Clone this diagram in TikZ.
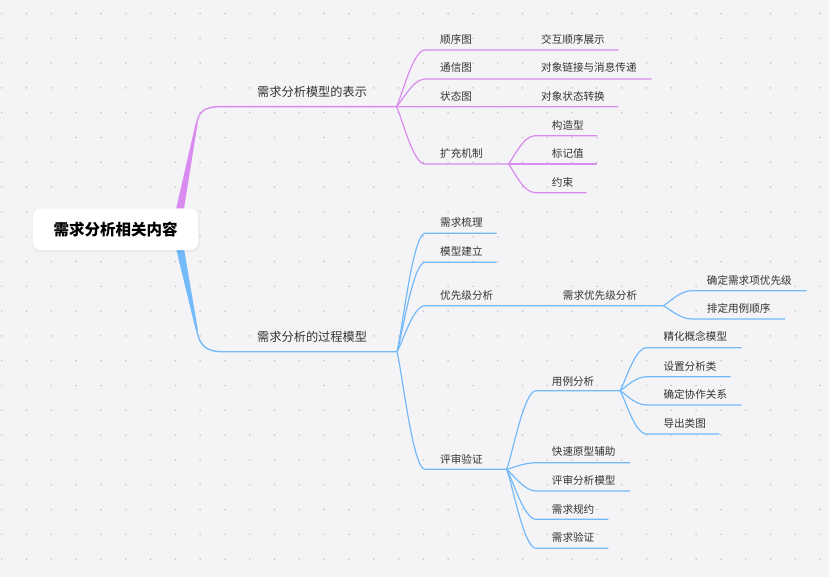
\documentclass[tikz,border=0pt]{standalone}
\usepackage{fontspec}
\newfontfamily\cjk{Noto Sans CJK SC}
\usetikzlibrary{calc}
\definecolor{bg}{HTML}{F4F4F6}
\definecolor{dotc}{HTML}{C6C6CA}
\definecolor{pinkc}{HTML}{D98BEF}
\definecolor{bluec}{HTML}{74B9FA}
\definecolor{txt}{HTML}{333333}
\begin{document}
\begin{tikzpicture}[x=1pt,y=-1pt,
  lab/.style={font=\cjk\fontsize{10.6}{12}\selectfont, text=txt, anchor=west, inner sep=0pt},
  labone/.style={font=\cjk\fontsize{12.2}{14}\selectfont, text=txt, anchor=west, inner sep=0pt},
  pk/.style={draw=pinkc, line width=1.2pt},
  bl/.style={draw=bluec, line width=1.2pt},
  branch/.style={to path={.. controls ($(\tikztostart)!0.2!(\tikztotarget)$) and ($(\tikztotarget)+(-12,0)$) .. (\tikztotarget)}}
]
\fill[bg] (0,0) rectangle (829,577);
\useasboundingbox (0,0) rectangle (829,577);
\foreach \i in {0,...,33}{\foreach \j in {0,...,23}{\fill[dotc] (1.7+24.8*\i,13.5+24.8*\j) circle (0.9pt);}}

% root connectors
\coordinate (Pa) at (196.7,123); \coordinate (Ps) at (220,106.7); \coordinate (Pe) at (396.5,106.7);
\coordinate (Qa) at (196.8,330); \coordinate (Qs) at (222,351.7); \coordinate (Qe) at (397,351.7);
\fill[pinkc] (174,218) -- (182.5,218) -- (197.7,123) -- (195.7,123) -- cycle;
\fill[bluec] (174,240) -- (182.5,240) -- (197.9,330) -- (195.7,330) -- cycle;
\draw[pk, line width=1.4pt] (Pa) .. controls (198.8,112) and (204,106.7) .. (Ps) -- (Pe);
\draw[bl, line width=1.4pt] (Qa) .. controls (199,345) and (206,351.7) .. (Qs) -- (Qe);

% root node
\fill[black, opacity=0.035, rounded corners=9pt] (31.5,208) rectangle (200,252.5);
\node[fill=white, rounded corners=8pt, minimum width=165.6pt, minimum height=41.7pt, inner sep=0pt] (root) at (115.5,229.2) {\cjk\fontsize{15.5}{18}\selectfont\bfseries 需求分析相关内容};

\node[labone] (P) at (257,91.7) {需求分析模型的表示};
\node[labone] (Q) at (257,336.7) {需求分析的过程模型};

% ---------- pink subtree ----------
\coordinate (A1s) at (425,50);   \coordinate (A1m) at (526,50);   \coordinate (A1e) at (618.3,50);
\coordinate (A2s) at (425,79);   \coordinate (A2m) at (526,79);   \coordinate (A2e) at (651.7,79);
\coordinate (A3s) at (425,106.7);\coordinate (A3m) at (526,106.7);\coordinate (A3e) at (618.3,106.7);
\coordinate (A4s) at (425,164);  \coordinate (A4e) at (508.3,164);
\coordinate (B1s) at (535,135.7); \coordinate (B1e) at (597.3,135.7);
\coordinate (B2s) at (535,164);   \coordinate (B2e) at (597.3,164);
\coordinate (B3s) at (535,192.7); \coordinate (B3e) at (586.7,192.7);

\draw[pk] (Pe) to[branch] (A1s) -- (A1m) -- (A1e);
\draw[pk] (Pe) to[branch] (A2s) -- (A2m) -- (A2e);
\draw[pk] (Pe) to[branch] (A3s) -- (A3m) -- (A3e);
\draw[pk] (Pe) to[branch] (A4s) -- (A4e);
\draw[pk] (A4e) to[branch] (B1s) -- (B1e);
\draw[pk] (A4e) to[branch] (B2s) -- (B2e);
\draw[pk] (A4e) to[branch] (B3s) -- (B3e);

\node[lab] (A1) at (440,39) {顺序图};
\node[lab] (A1g) at (541,39) {交互顺序展示};
\node[lab] (A2) at (440,67.7) {通信图};
\node[lab] (A2g) at (541,67.7) {对象链接与消息传递};
\node[lab] (A3) at (440,96) {状态图};
\node[lab] (A3g) at (541,96) {对象状态转换};
\node[lab] (A4) at (440,153.3) {扩充机制};
\node[lab] (B1) at (551.7,125) {构造型};
\node[lab] (B2) at (551.7,153.3) {标记值};
\node[lab] (B3) at (551.7,182.3) {约束};

% ---------- blue subtree ----------
\coordinate (C1s) at (425,233.3); \coordinate (C1e) at (496.7,233.3);
\coordinate (C2s) at (425,262.3); \coordinate (C2e) at (496.7,262.3);
\coordinate (C3s) at (425,305.7); \coordinate (C3m) at (548,305.7); \coordinate (C3e) at (663.3,305.7);
\coordinate (D1s) at (691.7,290.7); \coordinate (D1e) at (806.7,290.7);
\coordinate (D2s) at (691.7,319);   \coordinate (D2e) at (785,319);
\coordinate (C4s) at (425,469.3); \coordinate (C4e) at (506.7,469.3);
\coordinate (E1s) at (536,390.7); \coordinate (E1e) at (620,390.7);
\coordinate (E2s) at (536,462.7); \coordinate (E2e) at (630,462.7);
\coordinate (E3s) at (536,491);   \coordinate (E3e) at (630,491);
\coordinate (E4s) at (536,519.3); \coordinate (E4e) at (608.3,519.3);
\coordinate (E5s) at (536,548.3); \coordinate (E5e) at (608.3,548.3);
\coordinate (F1s) at (646.7,347.7); \coordinate (F1e) at (741.7,347.7);
\coordinate (F2s) at (646.7,376.7); \coordinate (F2e) at (730.7,376.7);
\coordinate (F3s) at (646.7,405);   \coordinate (F3e) at (741.7,405);
\coordinate (F4s) at (646.7,434);   \coordinate (F4e) at (719.3,434);

\draw[bl] (Qe) to[branch] (C1s) -- (C1e);
\draw[bl] (Qe) to[branch] (C2s) -- (C2e);
\draw[bl] (Qe) to[branch] (C3s) -- (C3m) -- (C3e);
\draw[bl] (Qe) to[branch] (C4s) -- (C4e);
\draw[bl] (C3e) to[branch] (D1s) -- (D1e);
\draw[bl] (C3e) to[branch] (D2s) -- (D2e);
\draw[bl] (C4e) to[branch] (E1s) -- (E1e);
\draw[bl] (C4e) to[branch] (E2s) -- (E2e);
\draw[bl] (C4e) to[branch] (E3s) -- (E3e);
\draw[bl] (C4e) to[branch] (E4s) -- (E4e);
\draw[bl] (C4e) to[branch] (E5s) -- (E5e);
\draw[bl] (E1e) to[branch] (F1s) -- (F1e);
\draw[bl] (E1e) to[branch] (F2s) -- (F2e);
\draw[bl] (E1e) to[branch] (F3s) -- (F3e);
\draw[bl] (E1e) to[branch] (F4s) -- (F4e);

\node[lab] (C1) at (440,222.7) {需求梳理};
\node[lab] (C2) at (440,251.7) {模型建立};
\node[lab] (C3) at (440,295) {优先级分析};
\node[lab] (C3g) at (562.7,295) {需求优先级分析};
\node[lab] (D1) at (706.7,280) {确定需求项优先级};
\node[lab] (D2) at (706.7,308.3) {排定用例顺序};
\node[lab] (C4) at (440,459.3) {评审验证};
\node[lab] (E1) at (551.7,381) {用例分析};
\node[lab] (E2) at (551.7,451.7) {快速原型辅助};
\node[lab] (E3) at (551.7,480.7) {评审分析模型};
\node[lab] (E4) at (551.7,509.3) {需求规约};
\node[lab] (E5) at (551.7,537.7) {需求验证};
\node[lab] (F1) at (663.3,336.7) {精化概念模型};
\node[lab] (F2) at (663.3,366) {设置分析类};
\node[lab] (F3) at (663.3,394.7) {确定协作关系};
\node[lab] (F4) at (663.3,423.3) {导出类图};
\end{tikzpicture}
\end{document}
